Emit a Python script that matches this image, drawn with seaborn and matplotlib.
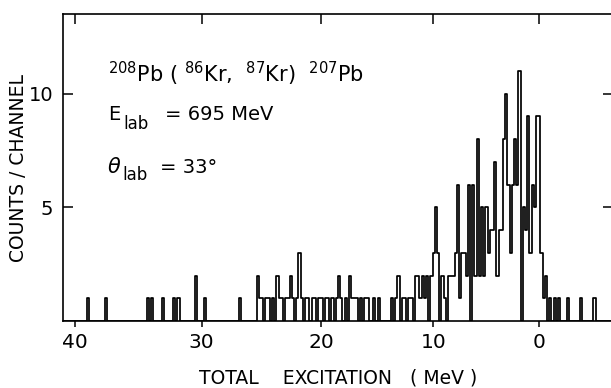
import matplotlib
matplotlib.use("Agg")
import matplotlib.pyplot as plt
import numpy as np
import pandas as pd
import seaborn as sns

# energy calibration of the spectrum: channels are even in a slightly
# non-linear energy coordinate (u - CURV*u^2 with u = 40 - E)
E_REF = 40.0
CURV = 0.002694
CHANNEL_WIDTH = 0.1694
X_LEFT, X_RIGHT = 40.94, -7.47

# lone channels out in the tails (MeV, counts)
single_mev = [38.92, 37.54, 34.32, 33.97, 33.12, 32.20, 31.85, 30.46, 29.72, 26.82,
              -2.82, -4.15, -5.65]
single_counts = [1, 1, 1, 1, 1, 1, 1, 2, 1, 1,
                 1, 1, 1]

# consecutive channels from 25.4 MeV down to about -1.5 MeV
run_start_mev = 25.42
run_counts = [
    2, 1, 1, 0, 1, 1, 0, 1, 0, 2,
    1, 1, 0, 1, 1, 2, 1, 0, 1, 3,
    1, 0, 1, 1, 0, 1, 1, 0, 1, 1,
    0, 1, 1, 0, 1, 0, 1, 2, 1, 0,
    1, 0, 2, 1, 1, 1, 0, 1, 0, 1,
    1, 0, 0, 1, 0, 1, 0, 0, 0, 0,
    0, 1, 0, 1, 2, 0, 1, 1, 0, 1,
    1, 0, 2, 2, 1, 2, 1, 2, 0, 2,
    3, 5, 3, 0, 2, 1, 0, 2, 2, 2,
    3, 6, 1, 3, 3, 2, 6, 0, 6, 2,
    8, 2, 5, 2, 5, 3, 4, 4, 7, 2,
    4, 4, 8, 10, 6, 3, 6, 8, 6, 11,
    0, 5, 4, 9, 3, 6, 5, 9, 9, 3,
    1, 2, 0, 1, 0, 1, 0, 1,
]

x_ticks = [40, 30, 20, 10, 0]
y_ticks = [5, 10]


def to_axis(e):
    u = E_REF - np.asarray(e, dtype=float)
    return -(u - CURV * u * u)


def from_axis(t):
    s = -np.asarray(t, dtype=float)
    root = np.sqrt(np.clip(1.0 - 4.0 * CURV * s, 0.0, None))
    return E_REF - (1.0 - root) / (2.0 * CURV)


# channel grid
s_left = float(-to_axis(X_LEFT))
s_right = float(-to_axis(X_RIGHT))
n_chan = int((s_right - s_left) / CHANNEL_WIDTH) + 1
edges_s = s_left + CHANNEL_WIDTH * np.arange(n_chan + 1)
edges_mev = np.sort(from_axis(-edges_s))
centers_mev = from_axis(-(edges_s[:-1] + CHANNEL_WIDTH / 2))


def channel_of(e):
    return int((float(-to_axis(e)) - s_left) // CHANNEL_WIDTH)


counts = np.zeros(n_chan)
for e, c in zip(single_mev, single_counts):
    counts[channel_of(e)] = c
i0 = channel_of(run_start_mev)
counts[i0:i0 + len(run_counts)] = run_counts

spectrum = pd.DataFrame({"energy": centers_mev, "counts": counts})

sns.set_style("ticks")
plt.rcParams["font.family"] = ["DejaVu Sans"]
plt.rcParams["mathtext.fontset"] = "dejavusans"
for key in ["text.color", "axes.labelcolor", "xtick.color", "ytick.color", "axes.edgecolor"]:
    plt.rcParams[key] = "black"

fig = plt.figure(figsize=(6.11, 3.88), dpi=100)
ax = fig.add_axes([63 / 611, 67 / 388, 550 / 611, 307 / 388])

sns.histplot(
    data=spectrum,
    x="energy",
    weights="counts",
    bins=[float(b) for b in edges_mev],
    element="step",
    fill=False,
    color="black",
    linewidth=1.25,
    ax=ax,
)

ax.set_xscale("function", functions=(to_axis, from_axis))
ax.set_xlim(X_LEFT, X_RIGHT)
ax.set_ylim(0, 13.5)

ax.set_xticks(x_ticks)
ax.set_xticklabels([str(v) for v in x_ticks])
ax.set_xticks(x_ticks, minor=True)
ax.xaxis.remove_overlapping_locs = False
ax.set_yticks(y_ticks)
ax.set_yticklabels([str(v) for v in y_ticks])
ax.set_yticks([], minor=True)

ax.tick_params(axis="x", which="major", direction="out", length=4.5, width=1.1,
               bottom=True, top=False, labelsize=14.5, pad=4.5)
ax.tick_params(axis="x", which="minor", direction="in", length=7, width=1.1,
               bottom=False, top=True)
ax.tick_params(axis="y", which="major", direction="in", length=7, width=1.1,
               left=True, right=True, labelsize=14, pad=7)

for side in ["left", "bottom", "top", "right"]:
    ax.spines[side].set_linewidth(1.2)
    ax.spines[side].set_visible(True)

ax.set_xlabel("TOTAL    EXCITATION   ( MeV )", fontsize=13.5)
ax.set_ylabel("COUNTS / CHANNEL", fontsize=13.5)
ax.xaxis.set_label_coords(0.5, -0.155)
ax.yaxis.set_label_coords(-0.064, 0.5)

label_kw = dict(transform=ax.transAxes, va="baseline", fontsize=14)
ax.text(0.082, 0.777, r"$^{208}$Pb ( $^{86}$Kr,  $^{87}$Kr)  $^{207}$Pb",
        transform=ax.transAxes, va="baseline", fontsize=15)

ax.text(0.082, 0.6547, "E", **label_kw)
ax.text(0.1091, 0.6238, "lab", transform=ax.transAxes, va="baseline", fontsize=12)
ax.text(0.1855, 0.6547, "= 695 MeV", **label_kw)

ax.text(0.080, 0.4805, r"$\theta$", transform=ax.transAxes, va="baseline", fontsize=15)
ax.text(0.1073, 0.4577, "lab", transform=ax.transAxes, va="baseline", fontsize=12)
ax.text(0.1764, 0.4805, "= 33°", **label_kw)

fig.savefig("out.png", dpi=100)
plt.close(fig)
